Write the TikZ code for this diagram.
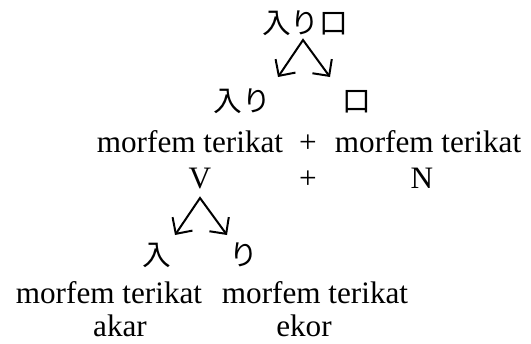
\documentclass[tikz,border=0pt]{standalone}
\usepackage{fontspec}
\setmainfont{Liberation Serif}
\newfontfamily\jpfont{Noto Sans CJK JP}
\usetikzlibrary{arrows.meta}

\begin{document}
\begin{tikzpicture}[
    x=0.75pt, y=-0.75pt,
    word/.style={inner sep=0pt, anchor=base, font=\fontsize{23.4}{28}\selectfont},
    kana/.style={inner sep=0pt, anchor=base, font=\jpfont\fontsize{21.5}{26}\selectfont},
    split/.style={line width=1.5pt, line join=miter, {Straight Barb[length=9pt, width=18pt]}-{Straight Barb[length=9pt, width=18pt]}},
]
\useasboundingbox (0,0) rectangle (531,343);

% whole word and its two halves
\node[kana] (iriguchi) at (305,33) {入り口};
\node[kana] (iri)      at (242,111) {入り};
\node[kana] (kuchi)    at (357,111) {口};
\node[word] (mtA)      at (190,152) {morfem terikat};
\node[word] (plusA)    at (308,152) {+};
\node[word] (mtB)      at (428,152) {morfem terikat};
\node[word] (catV)     at (200,188) {V};
\node[word] (plusB)    at (308,188) {+};
\node[word] (catN)     at (422,188) {N};

% second split
\node[kana] (hai)      at (157,265) {入};
\node[kana] (ri)       at (244,265) {り};
\node[word] (mtC)      at (109,303) {morfem terikat};
\node[word] (mtD)      at (315,303) {morfem terikat};
\node[word] (akar)     at (120,336) {akar};
\node[word] (ekor)     at (304,336) {ekor};

\coordinate (topSplit) at (303,40);
\coordinate (toIri)    at (278,77);
\coordinate (toKuchi)  at (330,77);
\coordinate (vSplit)   at (200,198);
\coordinate (toHai)    at (175,235);
\coordinate (toRi)     at (227,235);

\draw[split] (toIri) -- (topSplit) -- (toKuchi);
\draw[split] (toHai) -- (vSplit) -- (toRi);
\end{tikzpicture}
\end{document}
